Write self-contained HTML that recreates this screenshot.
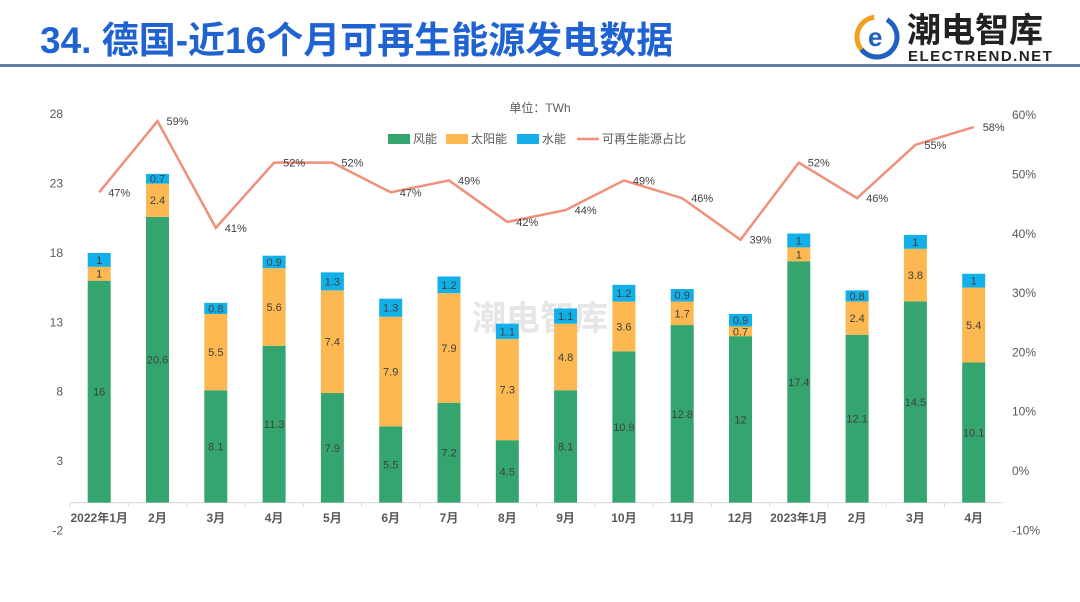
<!DOCTYPE html>
<html><head><meta charset="utf-8">
<style>
body{margin:0;width:1080px;height:602px;background:#fff;overflow:hidden;font-family:"Liberation Sans","Noto Sans CJK SC",sans-serif;}
.title{position:absolute;left:40px;top:10px;font-size:37px;font-weight:bold;color:#1f62d2;letter-spacing:0px;}
.rule{position:absolute;left:0;top:64px;width:1080px;height:3px;background:#5e7fa8;}
</style></head><body>
<div class="title">34. 德国-近16个月可再生能源发电数据</div>
<div class="rule"></div>
<div style="position:absolute;left:852px;top:10px;width:220px;height:55px;">
 <svg width="50" height="50" style="position:absolute;left:0;top:2px"><circle cx="25" cy="25" r="20" fill="none" stroke="#f0a020" stroke-width="5" stroke-dasharray="60 200" transform="rotate(90 25 25)"/><circle cx="25" cy="25" r="20" fill="none" stroke="#2060c0" stroke-width="5" stroke-dasharray="70 200" transform="rotate(-60 25 25)"/><text x="16" y="34" font-size="26" font-weight="bold" fill="#2060c0" font-family="Liberation Sans">e</text></svg>
 <div style="position:absolute;left:55px;top:0;font-size:34px;font-weight:bold;color:#222;line-height:36px;font-family:'Noto Sans CJK SC',sans-serif">潮电智库</div>
 <div style="position:absolute;left:56px;top:38px;font-size:15px;color:#222;letter-spacing:1.5px;font-weight:bold">ELECTREND.NET</div>
</div>
<svg id="chart" width="1080" height="602" style="position:absolute;left:0;top:0"></svg>
<script>
const categories=["2022年1月","2月","3月","4月","5月","6月","7月","8月","9月","10月","11月","12月","2023年1月","2月","3月","4月"];
const wind=[16,20.6,8.1,11.3,7.9,5.5,7.2,4.5,8.1,10.9,12.8,12,17.4,12.1,14.5,10.1];
const solar=[1,2.4,5.5,5.6,7.4,7.9,7.9,7.3,4.8,3.6,1.7,0.7,1,2.4,3.8,5.4];
const hydro=[1,0.7,0.8,0.9,1.3,1.3,1.2,1.1,1.1,1.2,0.9,0.9,1,0.8,1,1];
const share=[47,59,41,52,52,47,49,42,44,49,46,39,52,46,55,58];
const leftTicks=[-2,3,8,13,18,23,28];
const rightTicks=[-10,0,10,20,30,40,50,60];
const NS="http://www.w3.org/2000/svg",svg=document.getElementById('chart');
const yL=v=>502.6-v*13.87, yR=p=>471-p*5.93, xC=i=>99.2+58.3*i;
function mk(t,a,txt){const e=document.createElementNS(NS,t);for(const k in a)e.setAttribute(k,a[k]);if(txt!==undefined)e.textContent=txt;svg.appendChild(e);return e;}
let wm=mk('text',{x:540,y:330,'text-anchor':'middle','font-size':34,'font-weight':'bold',fill:'#e6e6e6','font-family':'Noto Sans CJK SC,sans-serif'},'潮电智库');

leftTicks.forEach(v=>{const t=mk('text',{x:63,y:yL(v)+4,'text-anchor':'end','font-size':12,fill:'#595959'},v);});
rightTicks.forEach(v=>{const t=mk('text',{x:1012,y:yR(v)+4,'font-size':12,fill:'#595959'},v+'%');});
let ax=mk('line',{x1:70,x2:1003,y1:502.6,y2:502.6,stroke:'#d9d9d9'});
categories.forEach((c,i)=>{
 const tk=mk('line',{x1:70+58.3*i,x2:70+58.3*i,y1:502.6,y2:507,stroke:'#d9d9d9'});
 const t=mk('text',{x:xC(i),y:522,'text-anchor':'middle','font-size':12,'font-weight':'bold',fill:'#595959'},c);
 const segs=[[wind[i],'#35a56f','wind'],[solar[i],'#fdb851','solar'],[hydro[i],'#12b0e8','hydro']];
 let base=0;
 segs.forEach(([v,col,n])=>{
  const y0=yL(base),y1=yL(base+v);
  const r=mk('rect',{x:xC(i)-11.5,y:y1,width:23,height:y0-y1,fill:col});
  
  const l=mk('text',{x:xC(i),y:(y0+y1)/2+4,'text-anchor':'middle','font-size':11,fill:'#404040'},v);
  
  base+=v;
 });
});
const pts=share.map((p,i)=>xC(i)+','+yR(p)).join(' ');
const pl=mk('polyline',{points:pts,fill:'none',stroke:'#f0907a','stroke-width':2.5});

share.forEach((p,i)=>{const t=mk('text',{x:xC(i)+9,y:yR(p)+4,'font-size':11,fill:'#404040'},p+'%');});
const u=mk('text',{x:540,y:112,'text-anchor':'middle','font-size':12,fill:'#595959'},'单位：TWh');
const leg=[['rect','#35a56f','风能',388],['rect','#fdb851','太阳能',446],['rect','#12b0e8','水能',517],['line','#f0907a','可再生能源占比',577]];
leg.forEach(([k,c,n,x])=>{
 if(k==='rect'){const r=mk('rect',{x:x,y:134,width:22,height:10,fill:c});}
 else {const l=mk('line',{x1:x,x2:x+22,y1:139,y2:139,stroke:c,'stroke-width':2.5});}
 const t=mk('text',{x:x+25,y:143,'font-size':12,fill:'#595959'},n);
});
</script>
</body></html>
